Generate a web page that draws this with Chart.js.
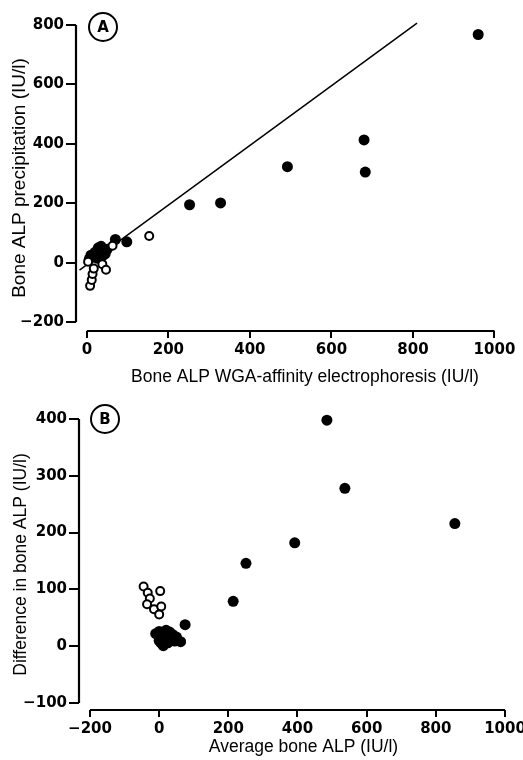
<!DOCTYPE html>
<html>
<head>
<meta charset="utf-8">
<script src="https://cdn.jsdelivr.net/npm/chart.js@4"></script>
<style>
  html, body { margin: 0; background: #fff; overflow: hidden; }
  canvas { display: block; }
</style>
</head>
<body>
<canvas id="chart-a" width="540" height="390"></canvas>
<canvas id="chart-b" width="540" height="370"></canvas>
<script>
// Panel A: precipitation vs WGA-affinity electrophoresis
const aFilled = [
  {x: 960, y: 768}, {x: 680, y: 413}, {x: 683, y: 305}, {x: 492, y: 323},
  {x: 328, y: 201}, {x: 252, y: 195}, {x: 98, y: 70}, {x: 70, y: 78},
  {x: 35, y: 55}, {x: 30, y: 45}, {x: 20, y: 35}, {x: 10, y: 25},
  {x: 40, y: 40}, {x: 45, y: 30}, {x: 25, y: 15}, {x: 15, y: 22},
  {x: 50, y: 45}, {x: 38, y: 22}, {x: 6, y: 12}, {x: 28, y: 50}
];
const aOpen = [
  {x: 153, y: 90}, {x: 63, y: 57}, {x: 3, y: 3}, {x: 38, y: -5},
  {x: 47, y: -24}, {x: 8, y: -78}, {x: 12, y: -58}, {x: 14, y: -38},
  {x: 17, y: -20}
];
const aLine = [{x: -18, y: -25}, {x: 810, y: 806}];
const aXTicks = [0, 200, 400, 600, 800, 1000];
const aYTicks = [-200, 0, 200, 400, 600, 800];

// Panel B: difference vs average
const bFilled = [
  {x: 485, y: 398}, {x: 537, y: 278}, {x: 855, y: 216}, {x: 392, y: 182},
  {x: 251, y: 146}, {x: 214, y: 79}, {x: 75, y: 38}, {x: 62, y: 8},
  {x: -10, y: 22}, {x: 0, y: 26}, {x: 10, y: 22}, {x: 20, y: 28},
  {x: 30, y: 25}, {x: 40, y: 20}, {x: 50, y: 16}, {x: 5, y: 6},
  {x: 15, y: 11}, {x: 25, y: 6}, {x: 35, y: 10}, {x: 12, y: 1},
  {x: 20, y: 15}, {x: 0, y: 10}, {x: 45, y: 9}
];
const bOpen = [
  {x: -45, y: 105}, {x: -33, y: 94}, {x: -27, y: 84}, {x: -35, y: 74},
  {x: -15, y: 65}, {x: 3, y: 97}, {x: 6, y: 70}, {x: 0, y: 56}
];
const bXTicks = [-200, 0, 200, 400, 600, 800, 1000];
const bYTicks = [-100, 0, 100, 200, 300, 400];

const tickFont = {family: 'DejaVu Sans', size: 15, weight: 'bold'};
const fmt = v => String(v).replace('-', '\u2212');

// axis lines only over the tick range, plus the circled panel letter
const panelDecor = {
  id: 'panelDecor',
  afterDraw(chart, args, opts) {
    const ctx = chart.ctx, xs = chart.scales.x, ys = chart.scales.y;
    const xt = opts.xTicks, yt = opts.yTicks;
    ctx.save();
    ctx.strokeStyle = '#000';
    ctx.lineWidth = 2.2;
    ctx.beginPath();
    ctx.moveTo(ys.left + ys.width, ys.getPixelForValue(yt[0]));
    ctx.lineTo(ys.left + ys.width, ys.getPixelForValue(yt[yt.length - 1]));
    ctx.moveTo(xs.getPixelForValue(xt[0]), xs.top);
    ctx.lineTo(xs.getPixelForValue(xt[xt.length - 1]), xs.top);
    ctx.stroke();
    ctx.lineWidth = 2;
    ctx.beginPath();
    ctx.arc(opts.cx, opts.cy, 14, 0, Math.PI * 2);
    ctx.stroke();
    ctx.fillStyle = '#000';
    ctx.font = 'bold 15px "DejaVu Sans"';
    ctx.textAlign = 'center';
    ctx.textBaseline = 'middle';
    ctx.fillText(opts.letter, opts.cx, opts.cy + 1);
    ctx.restore();
  }
};

function makeChart(id, cfg) {
  return new Chart(document.getElementById(id), {
    type: 'scatter',
    data: {
      datasets: [
        {data: cfg.open, pointRadius: 4, pointBackgroundColor: '#fff',
         pointBorderColor: '#000', pointBorderWidth: 2, clip: false},
        {data: cfg.filled, pointRadius: 5.5, pointBackgroundColor: '#000',
         pointBorderColor: '#000', pointBorderWidth: 0, clip: false}
      ].concat(cfg.line ? [{data: cfg.line, showLine: true, pointRadius: 0,
         borderColor: '#000', borderWidth: 1.5, clip: false}] : [])
    },
    options: {
      responsive: false,
      animation: false,
      layout: {padding: {top: cfg.top, right: cfg.right, left: 0, bottom: 0}},
      plugins: {
        legend: {display: false},
        tooltip: {enabled: false},
        panelDecor: {letter: cfg.letter, cx: cfg.cx, cy: cfg.cy,
                     xTicks: cfg.xTicks, yTicks: cfg.yTicks}
      },
      scales: {
        x: {
          type: 'linear', min: cfg.xMin, max: cfg.xMax,
          afterBuildTicks: s => { s.ticks = cfg.xTicks.map(v => ({value: v})); },
          afterFit: s => { s.height = cfg.xHeight; },
          border: {display: false},
          grid: {drawOnChartArea: false, drawTicks: true, tickLength: 7,
                 color: '#000', lineWidth: 2},
          ticks: {font: tickFont, color: '#000', padding: 3, maxRotation: 0,
                  callback: fmt},
          title: {display: true, text: cfg.xTitle, color: '#000',
                  font: {family: 'Liberation Sans', size: 17.5, lineHeight: 1},
                  padding: {top: 0, bottom: cfg.xTitlePad}}
        },
        y: {
          type: 'linear', min: cfg.yMin, max: cfg.yMax,
          afterBuildTicks: s => { s.ticks = cfg.yTicks.map(v => ({value: v})); },
          afterFit: s => { s.width = cfg.yWidth; },
          border: {display: false},
          grid: {drawOnChartArea: false, drawTicks: true, tickLength: 10,
                 color: '#000', lineWidth: 2},
          ticks: {font: tickFont, color: '#000', padding: 2, callback: fmt},
          title: {display: true, text: cfg.yTitle, color: '#000',
                  font: {family: 'Liberation Sans', size: cfg.yTitleSize, lineHeight: 1},
                  padding: {top: cfg.yTitlePad, bottom: 0}}
        }
      }
    },
    plugins: [panelDecor]
  });
}

makeChart('chart-a', {
  open: aOpen, filled: aFilled, line: aLine,
  xTicks: aXTicks, yTicks: aYTicks,
  xMin: -26.6, xMax: 1096.9, yMin: -230, yMax: 800,
  top: 25, right: 0, xHeight: 59, yWidth: 76,
  xTitle: 'Bone ALP WGA-affinity electrophoresis (IU/l)', xTitlePad: 4.5,
  yTitle: 'Bone ALP precipitation (IU/l)', yTitlePad: 10, yTitleSize: 19,
  letter: 'A', cx: 103, cy: 27
});

makeChart('chart-b', {
  open: bOpen, filled: bFilled, line: null,
  xTicks: bXTicks, yTicks: bYTicks,
  xMin: -231.8, xMax: 1066.5, yMin: -112.3, yMax: 400,
  top: 29, right: 12, xHeight: 50, yWidth: 79,
  xTitle: 'Average bone ALP (IU/l)', xTitlePad: 4.5,
  yTitle: 'Difference in bone ALP (IU/l)', yTitlePad: 12, yTitleSize: 17.5,
  letter: 'B', cx: 105, cy: 29
});
</script>
</body>
</html>
